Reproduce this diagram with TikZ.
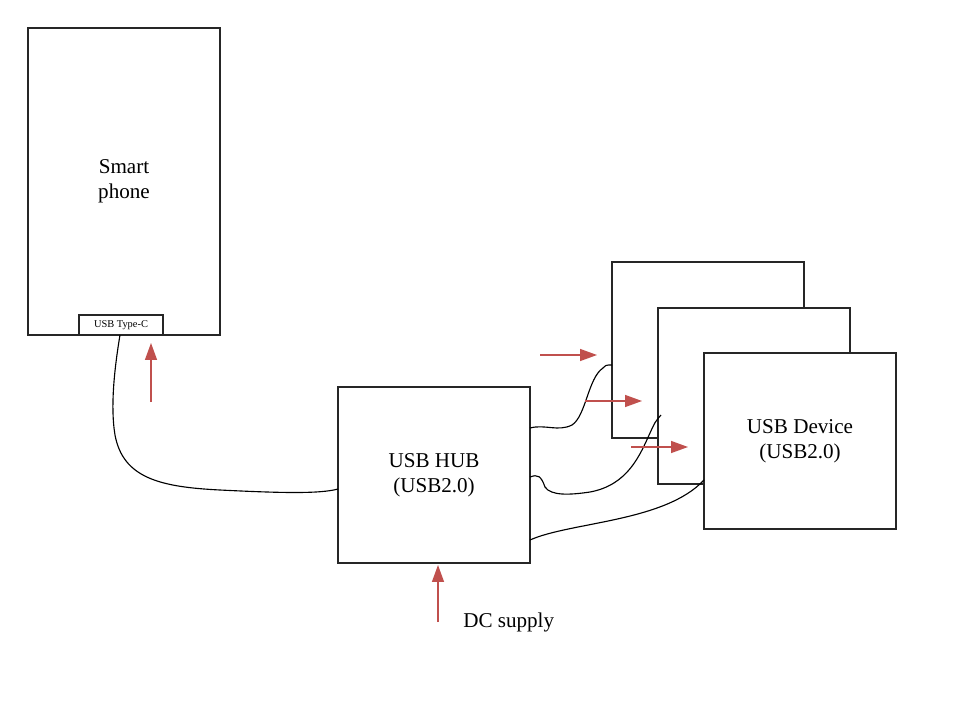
\documentclass[tikz,border=0pt]{standalone}
\usepackage{fontspec}
\setmainfont{Liberation Serif}
\usepackage{xcolor}
\usepackage{tikz}
\usetikzlibrary{arrows.meta}
\definecolor{rojo}{HTML}{C0504D}

\begin{document}
\begin{tikzpicture}[x=0.025cm, y=-0.025cm,
  caja/.style={draw=black!85, line width=0.9pt, fill=white, align=center,
    font=\fontsize{15}{18}\selectfont, inner sep=0pt},
  cable/.style={line width=0.8pt},
  flecha/.style={draw=rojo, line width=0.9pt, -{Triangle[length=12pt,width=8.5pt]}}]

\useasboundingbox (0,0) rectangle (962,724);

% Teléfono y conector
\node[caja, minimum width=4.8cm, minimum height=7.675cm] (phone) at (124,181.5) {Smart\\phone};
\node[caja, minimum width=2.1cm, minimum height=0.5cm, font=\fontsize{7.4}{9}\selectfont] (typec) at (121,325) {USB Type-C};

% Hub
\node[caja, minimum width=4.8cm, minimum height=4.4cm] (hub) at (434,475) {USB HUB\\(USB2.0)};

% Dispositivos (uno encima del otro)
\node[caja, minimum width=4.8cm, minimum height=4.4cm] (dev1) at (708,350) {};
\node[caja, minimum width=4.8cm, minimum height=4.4cm] (dev2) at (754,396) {};
\node[caja, minimum width=4.8cm, minimum height=4.4cm] (dev3) at (800,441) {USB Device\\(USB2.0)};

% Puntos de los cables
\coordinate (c0) at (120,335);
\coordinate (c1) at (338,489);
\coordinate (h1) at (530,428);
\coordinate (h2) at (530,477);
\coordinate (h3) at (530,540);
\coordinate (d1) at (612,365);
\coordinate (d2) at (661,415);
\coordinate (d3) at (704,480);

% Cables
\draw[cable] (c0) .. controls (115,365) and (110,405) .. (115,435)
  .. controls (123,478) and (160,487) .. (220,490)
  .. controls (280,493) and (320,494) .. (c1);
\draw[cable] (h1) .. controls (545,424) and (558,432) .. (572,425)
  .. controls (586,416) and (588,378) .. (603,368)
  .. controls (606,365) .. (d1);
\draw[cable] (h2) .. controls (538,474) and (541,476) .. (545,487)
  .. controls (551,496) and (570,495) .. (590,492)
  .. controls (628,485) and (640,455) .. (650,433)
  .. controls (655,422) .. (d2);
\draw[cable] (h3) .. controls (570,522) and (665,522) .. (d3);

% Flechas
\coordinate (a1) at (151,402);
\coordinate (b1) at (151,343);
\coordinate (a2) at (540,355);
\coordinate (b2) at (597,355);
\coordinate (a3) at (585,401);
\coordinate (b3) at (642,401);
\coordinate (a4) at (631,447);
\coordinate (b4) at (688,447);
\coordinate (a5) at (438,622);
\coordinate (b5) at (438,565);
\draw[flecha] (a1) -- (b1);
\draw[flecha] (a2) -- (b2);
\draw[flecha] (a3) -- (b3);
\draw[flecha] (a4) -- (b4);
\draw[flecha] (a5) -- (b5);

% Texto inferior
\node[font=\fontsize{15}{18}\selectfont, anchor=west, inner sep=0pt] (dc) at (463,622) {DC supply};

\end{tikzpicture}
\end{document}
